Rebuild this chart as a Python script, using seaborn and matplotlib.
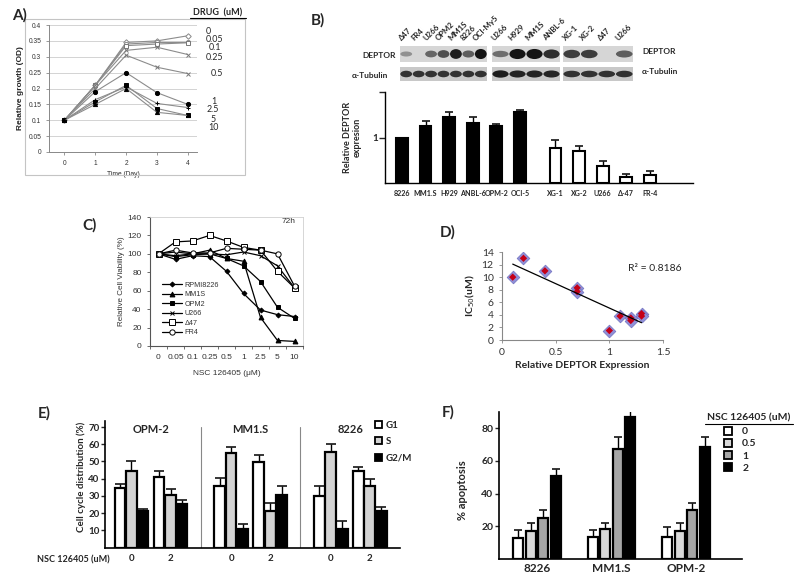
import numpy as np
import pandas as pd
import matplotlib
matplotlib.use('Agg')
import matplotlib.pyplot as plt
import seaborn as sns
from matplotlib.patches import Ellipse, Patch, Rectangle
from matplotlib.lines import Line2D
from matplotlib.transforms import blended_transform_factory

# ---------------- data ----------------
# A) growth over time, one list per drug dose (uM)
days = [0, 1, 2, 3, 4]
drug_doses = ['0', '0.05', '0.1', '0.25', '0.5', '1', '2.5', '5', '10']
od_0 = [0.100, 0.210, 0.345, 0.350, 0.366]
od_005 = [0.100, 0.210, 0.340, 0.345, 0.345]
od_01 = [0.100, 0.210, 0.335, 0.340, 0.344]
od_025 = [0.100, 0.210, 0.320, 0.330, 0.307]
od_05 = [0.100, 0.200, 0.305, 0.267, 0.247]
od_1 = [0.100, 0.190, 0.250, 0.187, 0.150]
od_25 = [0.100, 0.165, 0.205, 0.153, 0.140]
od_5 = [0.100, 0.158, 0.210, 0.137, 0.115]
od_10 = [0.100, 0.150, 0.200, 0.125, 0.115]
growth = [od_0, od_005, od_01, od_025, od_05, od_1, od_25, od_5, od_10]

# B) western blot band strength (0-1) and relative DEPTOR expression
blot1_lanes = ['Δ47', 'FR4', 'U266', 'OPM2', 'MM1S', '8226', 'OCI-My5']
blot1_deptor = [0.25, 0.0, 0.5, 0.65, 0.95, 0.55, 1.0]
blot1_tub = [0.8, 0.8, 0.8, 0.8, 0.8, 0.8, 0.8]
blot2_lanes = ['U266', 'H929', 'MM1S', 'ANBL-6']
blot2_deptor = [0.45, 1.0, 1.0, 0.85]
blot2_tub = [0.95, 0.9, 0.9, 0.9]
blot3_lanes = ['XG-1', 'XG-2', 'Δ47', 'U266']
blot3_deptor = [0.75, 0.75, 0.0, 0.55]
blot3_tub = [0.8, 0.8, 0.8, 0.8]

deptor_lines = ['8226', 'MM1.S', 'H929', 'ANBL-6', 'OPM-2', 'OCI-5',
                'XG-1', 'XG-2', 'U266', 'Δ-47', 'FR-4']
deptor_expr = [1.0, 1.26, 1.45, 1.32, 1.26, 1.57, 0.78, 0.71, 0.37, 0.13, 0.17]
deptor_err = [0.0, 0.11, 0.10, 0.12, 0.04, 0.04, 0.16, 0.10, 0.12, 0.07, 0.10]
n_high = 6  # first six lines are the high-DEPTOR (black) group

# C) cell viability after 72h
nsc_doses = ['0', '0.05', '0.1', '0.25', '0.5', '1', '2.5', '5', '10']
via_rpmi8226 = [100, 94, 98, 97, 81, 57, 39, 34, 32]
via_mm1s = [100, 98, 100, 104, 95, 92, 31, 6, 5]
via_opm2 = [100, 97, 99, 100, 95, 87, 70, 42, 30]
via_u266 = [100, 102, 100, 100, 99, 102, 98, 87, 63]
via_d47 = [100, 113, 114, 120, 114, 107, 104, 81, 63]
via_fr4 = [100, 104, 101, 101, 106, 105, 104, 100, 65]
via_names = ['RPMI8226', 'MM1S', 'OPM2', 'U266', 'Δ47', 'FR4']

# D) IC50 vs DEPTOR
deptor_rel = [0.1, 0.2, 0.4, 0.7, 0.7, 1.0, 1.1, 1.2, 1.2, 1.3, 1.3]
ic50 = [10.0, 13.0, 11.0, 8.3, 7.7, 1.5, 3.8, 3.5, 3.1, 4.2, 3.8]

# E) cell cycle, order: OPM-2 0, OPM-2 2, MM1.S 0, MM1.S 2, 8226 0, 8226 2
cc_lines = ['OPM-2', 'MM1.S', '8226']
cc_doses = ['0', '2']
cc_phases = ['G1', 'S', 'G2/M']
g1_mean = [34.6, 40.9, 36.0, 49.8, 30.2, 44.4]
g1_err = [2.5, 3.5, 4.5, 3.9, 5.4, 2.3]
s_mean = [44.7, 30.7, 55.0, 21.0, 55.4, 35.6]
s_err = [5.5, 3.3, 3.3, 4.9, 4.9, 4.3]
g2m_mean = [21.0, 25.3, 10.7, 30.7, 10.7, 21.0]
g2m_err = [1.4, 2.5, 3.0, 5.3, 4.5, 2.5]

# F) apoptosis
apo_lines = ['8226', 'MM1.S', 'OPM-2']
apo_doses = ['0', '0.5', '1', '2']
apo_0 = [12.8, 13.2, 13.6]
apo_05 = [17.3, 18.3, 17.3]
apo_1 = [25.4, 67.5, 30.1]
apo_2 = [50.8, 87.0, 68.5]
apo_err_0 = [4.9, 4.5, 5.7]
apo_err_05 = [4.5, 3.7, 4.5]
apo_err_1 = [4.7, 7.3, 3.9]
apo_err_2 = [4.1, 5.0, 6.3]

# ---------------- figure ----------------
sns.set_style('ticks')
plt.rcParams['font.family'] = ['Liberation Sans', 'DejaVu Sans']
CAL = ['Lato', 'DejaVu Sans']

W, H = 800, 579
fig = plt.figure(figsize=(8, 5.79), dpi=100)


def box(l, t, r, b):
    return [l / W, 1 - b / H, (r - l) / W, (b - t) / H]


def ftext(x, y, s, **kw):
    fig.text(x / W, 1 - y / H, s, **kw)


def underline(x0, x1, y, lw=0.8):
    fig.add_artist(Line2D([x0 / W, x1 / W], [1 - y / H, 1 - y / H],
                          color='black', lw=lw, transform=fig.transFigure))


def upper_err(ax, x, y, err, cap_color='black', capsize=3):
    eb = ax.errorbar(x, y, yerr=[np.zeros(len(err)), err], fmt='none',
                     ecolor='black', elinewidth=1, capsize=capsize, capthick=1.1, zorder=1)
    eb[1][0].set_visible(False)
    eb[1][1].set_color(cap_color)


# panel letters
for letter, (px, py) in zip('ABCDEF', [(20, 15), (318, 20), (90, 225),
                                       (448, 232), (44, 413), (448, 412)]):
    ftext(px, py, letter + ')', fontsize=11, fontweight='bold', family=CAL,
          ha='center', va='center')

# ---- A) growth curves ----
fig.patches.append(Rectangle((25 / W, 1 - 175 / H), 220 / W, 156 / H, transform=fig.transFigure,
                             fill=False, ec='#c4c4c4', lw=0.8))
axA = fig.add_axes(box(49, 25, 197, 152))
a_marks = [('D', 'white', '#888888', 2.8), ('o', 'white', '#888888', 3),
           ('s', 'white', '#777777', 3), ('x', '#777777', '#777777', 3),
           ('x', '#777777', '#777777', 2.5), ('o', 'black', 'black', 3),
           ('+', 'black', 'black', 3.5), ('s', 'black', 'black', 3),
           ('^', 'black', 'black', 3)]
for vals, (m, fc, ec, ms) in zip(growth, a_marks):
    sns.lineplot(x=days, y=vals, ax=axA, color='#8c8c8c', lw=0.8, marker=m,
                 ms=ms, mfc=fc, mec=ec, mew=0.7)
axA.set_xlim(-0.5, 4.3)
axA.set_ylim(0, 0.4)
axA.set_xticks(days)
yt = np.arange(0, 0.41, 0.05)
axA.set_yticks(yt)
axA.set_yticklabels([f'{round(v, 2):g}' for v in yt])
axA.yaxis.grid(True, color='#cccccc', lw=0.6)
axA.set_axisbelow(True)
sns.despine(ax=axA)
for s in ['left', 'bottom']:
    axA.spines[s].set_color('#888888')
    axA.spines[s].set_linewidth(0.7)
axA.tick_params(labelsize=4.8, length=2, width=0.6, color='#888888', labelcolor='#333333')
axA.set_xlabel('Time (Day)', fontsize=4.8, labelpad=3)
axA.set_ylabel('Relative growth (OD)', fontsize=6, fontweight='bold', labelpad=3)
dose_pos = [(206, 31), (206, 40), (209, 48), (206, 57), (211, 73),
            (211, 101), (207, 110), (211, 119), (208, 128)]
for lab, (px, py) in zip(drug_doses, dose_pos):
    ftext(px, py, lab, fontsize=6.4, family=CAL, va='center', ha='left')
ftext(218, 13, 'DRUG  (uM)', fontsize=6.5, fontweight='bold', family=CAL, ha='center', va='center')
underline(190, 246, 18)

# ---- B) blots ----
blot_x = [(400, 487), (492, 560), (563, 633)]
blot_rows = [(46, 62, '#d6d6d6', 0.42), (67, 81, '#c8c8c8', 0.36)]
for (x0, x1), lanes, dep, tub in zip(blot_x, [blot1_lanes, blot2_lanes, blot3_lanes],
                                     [blot1_deptor, blot2_deptor, blot3_deptor],
                                     [blot1_tub, blot2_tub, blot3_tub]):
    n = len(lanes)
    for (y0, y1, bg, hgt), levels in zip(blot_rows, [dep, tub]):
        ax = fig.add_axes(box(x0, y0, x1, y1))
        ax.set_facecolor(bg)
        ax.set_xlim(-0.5, n - 0.5)
        ax.set_ylim(0, 1)
        ax.set_xticks([])
        ax.set_yticks([])
        for s in ax.spines.values():
            s.set_visible(False)
        for i, v in enumerate(levels):
            if v > 0:
                ax.add_patch(Ellipse((i, 0.5), 0.95, hgt * (0.5 + v), color='#141414',
                                     alpha=min(1, 0.15 + 0.85 * v), lw=0))
        if levels is dep:
            tr = blended_transform_factory(ax.transData, ax.transAxes)
            for i, lab in enumerate(lanes):
                ax.text(i - 0.3, 1.25, lab, transform=tr, rotation=45, ha='left', va='bottom',
                        rotation_mode='anchor', fontsize=5.6, fontweight='bold', family=CAL)
ftext(362, 56, 'DEPTOR', fontsize=6, fontweight='bold', family=CAL, va='center')
ftext(352, 75, 'α-Tubulin', fontsize=6, fontweight='bold', family=CAL, va='center')
ftext(642, 52, 'DEPTOR', fontsize=6, fontweight='bold', family=CAL, va='center')
ftext(642, 71, 'α-Tubulin', fontsize=6, fontweight='bold', family=CAL, va='center')

# ---- B) bars ----
axB = fig.add_axes(box(385, 92, 693, 183))
idx = np.arange(len(deptor_lines))
xb = idx + np.where(idx >= n_high, 0.5, 0.0)
faces = ['black' if i < n_high else 'white' for i in idx]
axB.bar(xb, deptor_expr, width=0.5, color=faces, edgecolor='black', lw=1.5, zorder=2)
upper_err(axB, xb, deptor_expr, deptor_err)
axB.set_xlim(-0.72, 12.33)
axB.set_ylim(0, 2)
axB.set_yticks([1, 2])
axB.set_yticklabels(['1', ''])
axB.set_xticks(xb)
axB.set_xticklabels(deptor_lines)
sns.despine(ax=axB)
for s in ['left', 'bottom']:
    axB.spines[s].set_color('black')
    axB.spines[s].set_linewidth(1)
axB.tick_params(axis='x', length=0, pad=5)
axB.tick_params(axis='y', length=4, width=1, pad=1)
for t in axB.get_xticklabels() + axB.get_yticklabels():
    t.set_family(CAL)
    t.set_fontweight('bold')
    t.set_fontsize(5.1)
axB.get_yticklabels()[0].set_fontsize(7)
ftext(352, 137, 'Relative DEPTOR\nexpresion', rotation=90, fontsize=6.5, fontweight='bold',
      family=CAL, ha='center', va='center', linespacing=1.1)

# ---- C) viability ----
axC = fig.add_axes(box(150, 217, 303, 346))
c_marks = [('D', 'black', 2.5), ('^', 'black', 3.5), ('s', 'black', 3.5),
           ('x', 'black', 3.2), ('s', 'white', 4), ('o', 'white', 3.8)]
xc = np.arange(len(nsc_doses))
for vals, name, (m, fc, ms) in zip([via_rpmi8226, via_mm1s, via_opm2, via_u266, via_d47, via_fr4],
                                   via_names, c_marks):
    sns.lineplot(x=xc, y=vals, ax=axC, color='black', lw=0.9, marker=m, ms=ms,
                 mfc=fc, mec='black', mew=0.7, label=name)
axC.set_xlim(-0.5, len(nsc_doses) - 0.5)
axC.set_ylim(0, 140)
axC.set_yticks(np.arange(0, 141, 20))
axC.set_xticks(xc)
axC.set_xticklabels(nsc_doses)
axC.set_xticks(np.arange(-0.5, len(nsc_doses)), minor=True)
axC.tick_params(axis='x', which='major', length=0, pad=6)
axC.tick_params(axis='x', which='minor', length=2.5, width=0.6, color='#555555')
axC.tick_params(axis='y', length=2.5, width=0.6, color='#555555')
axC.tick_params(labelsize=6, labelcolor='#333333')
for s in ['left', 'bottom']:
    axC.spines[s].set_color('#555555')
    axC.spines[s].set_linewidth(0.8)
for s in ['top', 'right']:
    axC.spines[s].set_color('#d0d0d0')
    axC.spines[s].set_linewidth(0.6)
axC.set_xlabel('NSC 126405 (μM)', fontsize=6, color='#333333', labelpad=6)
axC.set_ylabel('Relative Cell Viability (%)', fontsize=5.8, color='#333333', labelpad=2)
handles, labels = axC.get_legend_handles_labels()
axC.legend(handles, labels, loc='upper left', bbox_to_anchor=(0.08, 0.5), frameon=False,
           fontsize=5.2, handlelength=2.8, labelspacing=0.35, handletextpad=0.3,
           borderaxespad=0, borderpad=0, labelcolor='#333333')
axC.text(0.95, 0.99, '72h', transform=axC.transAxes, fontsize=6, color='#333333',
         ha='right', va='top')

# ---- D) IC50 scatter ----
axD = fig.add_axes(box(502, 252, 663, 340))
sns.scatterplot(x=deptor_rel, y=ic50, marker='D', s=42, color='#9090d8', edgecolor='#7070c0',
                linewidth=0.5, ax=axD, zorder=2)
sns.scatterplot(x=deptor_rel, y=ic50, marker='D', s=14, color='#c40018', edgecolor='none',
                ax=axD, zorder=3)
sns.regplot(x=deptor_rel, y=ic50, ci=None, scatter=False, color='black',
            line_kws={'lw': 0.9, 'zorder': 4}, ax=axD)
axD.set_xlim(0, 1.5)
axD.set_ylim(0, 14)
axD.set_xticks([0, 0.5, 1, 1.5])
axD.set_xticklabels(['0', '0.5', '1', '1.5'])
axD.set_yticks(np.arange(0, 15, 2))
sns.despine(ax=axD)
for s in ['left', 'bottom']:
    axD.spines[s].set_color('#888888')
    axD.spines[s].set_linewidth(0.8)
axD.tick_params(labelsize=7.5, length=2.5, width=0.6, color='#888888', labelcolor='#333333')
for t in axD.get_xticklabels() + axD.get_yticklabels():
    t.set_family(CAL)
axD.set_xlabel('Relative DEPTOR Expression', fontsize=7.5, fontweight='bold', family=CAL, labelpad=3)
axD.set_ylabel('IC$_{50}$(uM)', fontsize=7.5, fontweight='bold', family=CAL, labelpad=3)
axD.text(1.17, 11.4, 'R² = 0.8186', fontsize=7.5, family=CAL, va='center')

# ---- E) cell cycle ----
axE = fig.add_axes(box(105, 421, 400, 547.5))
e_colors = ['white', '#d3d3d3', 'black']
unit_bar, sub_off = 0.1156, 0.196
for k, (means, errs) in enumerate([(g1_mean, g1_err), (s_mean, s_err), (g2m_mean, g2m_err)]):
    xs = np.array([g + (d - 0.5) * 2 * sub_off + (k - 1) * unit_bar
                   for g in range(len(cc_lines)) for d in range(len(cc_doses))])
    axE.bar(xs, means, width=0.108, color=e_colors[k], edgecolor='black', lw=1.6, zorder=2)
    upper_err(axE, xs, means, errs, cap_color='#4a78d0', capsize=3.5)
for g in range(len(cc_lines) - 1):
    axE.axvline(g + 0.5, ymax=70 / 73.5, color='#888888', lw=0.8)
for g, name in enumerate(cc_lines):
    axE.text(g, 68.8, name, fontsize=8, fontweight='bold', family=CAL, ha='center', va='center')
axE.set_xlim(-0.462, 2.5)
axE.set_ylim(0, 73.5)
axE.set_yticks(np.arange(10, 71, 10))
axE.set_xticks([g + (d - 0.5) * 2 * sub_off for g in range(len(cc_lines)) for d in range(len(cc_doses))])
axE.set_xticklabels(cc_doses * len(cc_lines))
sns.despine(ax=axE)
for s in ['left', 'bottom']:
    axE.spines[s].set_color('black')
    axE.spines[s].set_linewidth(1.2)
axE.tick_params(axis='x', length=0, pad=5)
axE.tick_params(axis='y', length=3, width=1, pad=1)
for t in axE.get_xticklabels() + axE.get_yticklabels():
    t.set_family(CAL)
    t.set_fontweight('bold')
    t.set_fontsize(7)
ftext(81, 477, 'Cell cycle distribution (%)', rotation=90, fontsize=7, fontweight='bold',
      family=CAL, ha='center', va='center')
ftext(73, 560, 'NSC 126405 (uM)', fontsize=6.5, fontweight='bold', family=CAL,
      ha='center', va='center')
e_handles = [Patch(facecolor=c, edgecolor='black', lw=1.3) for c in e_colors]
axE.legend(e_handles, cc_phases, loc='upper left', bbox_to_anchor=(375 / W, 1 - 421 / H),
           bbox_transform=fig.transFigure, frameon=False, handlelength=0.7, handleheight=0.7,
           labelspacing=0.75, handletextpad=0.4, borderpad=0, borderaxespad=0,
           prop={'family': CAL, 'weight': 'bold', 'size': 7})

# ---- F) apoptosis ----
axF = fig.add_axes(box(499, 412, 742, 559))
df_f = pd.DataFrame({
    'line': apo_lines * len(apo_doses),
    'dose': np.repeat(apo_doses, len(apo_lines)),
    'pct': apo_0 + apo_05 + apo_1 + apo_2,
    'err': apo_err_0 + apo_err_05 + apo_err_1 + apo_err_2,
})
f_colors = ['white', '#d9d9d9', '#a6a6a6', 'black']
f_width = 0.67
sns.barplot(data=df_f, x='line', y='pct', hue='dose', order=apo_lines, hue_order=apo_doses,
            palette=f_colors, width=f_width, gap=0.2, saturation=1, errorbar=None,
            edgecolor='black', linewidth=1.6, legend=False, ax=axF, zorder=2)
xf = [apo_lines.index(l) + (apo_doses.index(d) - 1.5) * f_width / len(apo_doses)
      for l, d in zip(df_f['line'], df_f['dose'])]
upper_err(axF, xf, df_f['pct'].values, df_f['err'].values)
axF.set_xlim(-0.51, 2.75)
axF.set_ylim(0, 90)
axF.set_yticks([20, 40, 60, 80])
sns.despine(ax=axF)
for s in ['left', 'bottom']:
    axF.spines[s].set_color('black')
    axF.spines[s].set_linewidth(1.2)
axF.tick_params(axis='x', length=0, pad=3)
axF.tick_params(axis='y', length=3, width=1, pad=1)
for t in axF.get_xticklabels():
    t.set_family(CAL)
    t.set_fontweight('bold')
    t.set_fontsize(8.5)
for t in axF.get_yticklabels():
    t.set_family(CAL)
    t.set_fontweight('bold')
    t.set_fontsize(7.5)
axF.set_xlabel('')
axF.set_ylabel('')
ftext(463, 490, '% apoptosis', rotation=90, fontsize=8, fontweight='bold', family=CAL,
      ha='center', va='center')
ftext(749, 418, 'NSC 126405 (uM)', fontsize=7.5, fontweight='bold', family=CAL,
      ha='center', va='center')
underline(705, 793, 424)
f_handles = [Patch(facecolor=c, edgecolor='black', lw=1.3) for c in f_colors]
axF.legend(f_handles, apo_doses, loc='upper left', bbox_to_anchor=(724 / W, 1 - 427 / H),
           bbox_transform=fig.transFigure, frameon=False, handlelength=0.75, handleheight=0.75,
           labelspacing=0.25, handletextpad=1.0, borderpad=0, borderaxespad=0,
           prop={'family': CAL, 'weight': 'bold', 'size': 7.5})

fig.savefig('out.png', dpi=100)
